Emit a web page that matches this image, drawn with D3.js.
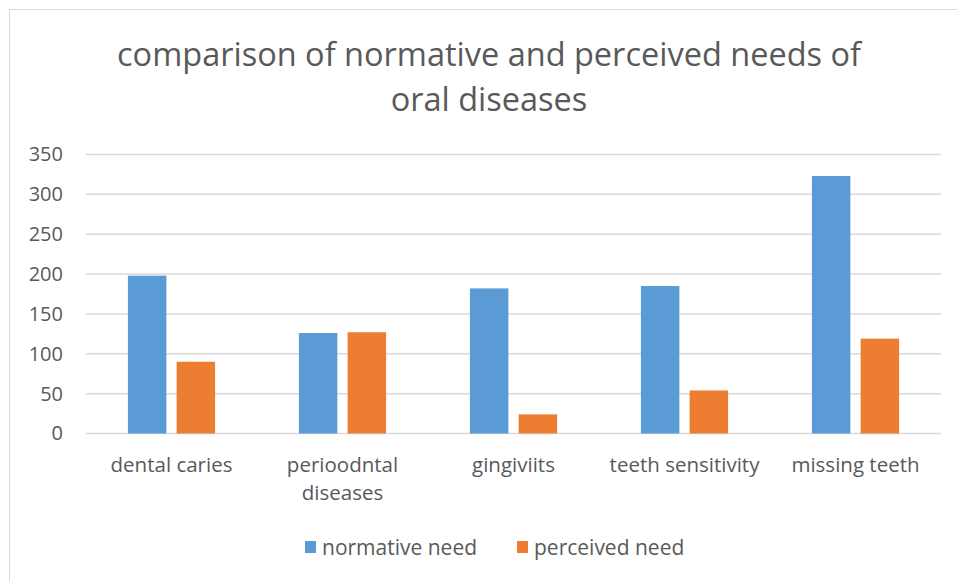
<!DOCTYPE html>
<html>
<head>
<meta charset="utf-8">
<script src="https://cdn.jsdelivr.net/npm/d3@7"></script>
<style>
  html, body { margin: 0; padding: 0; background: #fff; }
  svg { display: block; }
  text { font-family: "Open Sans", sans-serif; fill: #595959; font-variant-ligatures: none; }
</style>
</head>
<body>
<svg id="chart" width="957" height="581"></svg>
<script>
// Oral disease needs: normative vs perceived
const categories = ["dental caries", "perioodntal diseases", "gingiviits", "teeth sensitivity", "missing teeth"];
const categoryLines = [["dental caries"], ["perioodntal", "diseases"], ["gingiviits"], ["teeth sensitivity"], ["missing teeth"]];
const seriesNames = ["normative need", "perceived need"];
const normativeNeed = [198, 126, 182, 185, 323];
const perceivedNeed = [90, 127, 24, 54, 119];
const yTicks = [0, 50, 100, 150, 200, 250, 300, 350];
const titleLines = ["comparison of normative and perceived needs of", "oral diseases"];
const colors = ["#5b9bd5", "#ed7d31"];

const svg = d3.select("#chart");

// chart frame
svg.append("rect")
  .attr("x", 9.5).attr("y", 9.5)
  .attr("width", 960).attr("height", 600)
  .attr("fill", "#fff").attr("stroke", "#d9d9d9").attr("stroke-width", 1);

const plot = { left: 86, right: 941, top: 154.5, bottom: 433.5 };

const x = d3.scaleBand().domain(categories).range([plot.left, plot.right]);
const y = d3.scaleLinear().domain([0, 350]).range([plot.bottom, plot.top]);

// title
svg.append("g").selectAll("text").data(titleLines).join("text")
  .attr("x", 489).attr("y", (d, i) => 66 + i * 45)
  .attr("text-anchor", "middle")
  .style("font-size", "32.5px")
  .text(d => d);

// gridlines
svg.append("g").selectAll("line").data(yTicks).join("line")
  .attr("x1", plot.left).attr("x2", plot.right)
  .attr("y1", d => y(d)).attr("y2", d => y(d))
  .attr("stroke", "#d9d9d9").attr("stroke-width", 1.5);

// y axis labels
const yAxis = svg.append("g")
  .attr("transform", `translate(${plot.left},0)`)
  .call(d3.axisLeft(y).tickValues(yTicks).tickSize(0).tickPadding(23));
yAxis.select(".domain").remove();
yAxis.selectAll("text").style("font-size", "20px").attr("fill", "#595959")
  .style("font-family", "'Open Sans', sans-serif");

// bars
const band = x.bandwidth();
const barW = band * 0.225;
const gap = band * 0.06;
const series = [normativeNeed, perceivedNeed];
series.forEach((vals, si) => {
  svg.append("g").selectAll("rect").data(vals).join("rect")
    .attr("x", (d, i) => x(categories[i]) + band / 2 - barW - gap / 2 + si * (barW + gap))
    .attr("width", barW)
    .attr("y", d => y(d))
    .attr("height", d => y(0) - y(d))
    .attr("fill", colors[si]);
});

// category labels
const xl = svg.append("g");
categories.forEach((c, i) => {
  const t = xl.append("text")
    .attr("x", x(c) + band / 2)
    .attr("y", 472)
    .attr("text-anchor", "middle")
    .style("font-size", "20.5px");
  categoryLines[i].forEach((ln, j) => {
    t.append("tspan").attr("x", x(c) + band / 2).attr("dy", j === 0 ? 0 : 28).text(ln);
  });
});

// legend
const legend = svg.append("g");
const legendItems = [{ x: 305, name: seriesNames[0], c: colors[0] }, { x: 517, name: seriesNames[1], c: colors[1] }];
legendItems.forEach(it => {
  legend.append("rect").attr("x", it.x).attr("y", 541).attr("width", 11).attr("height", 12).attr("fill", it.c);
  legend.append("text").attr("x", it.x + 17).attr("y", 555).style("font-size", "21px").text(it.name);
});
</script>
</body>
</html>
